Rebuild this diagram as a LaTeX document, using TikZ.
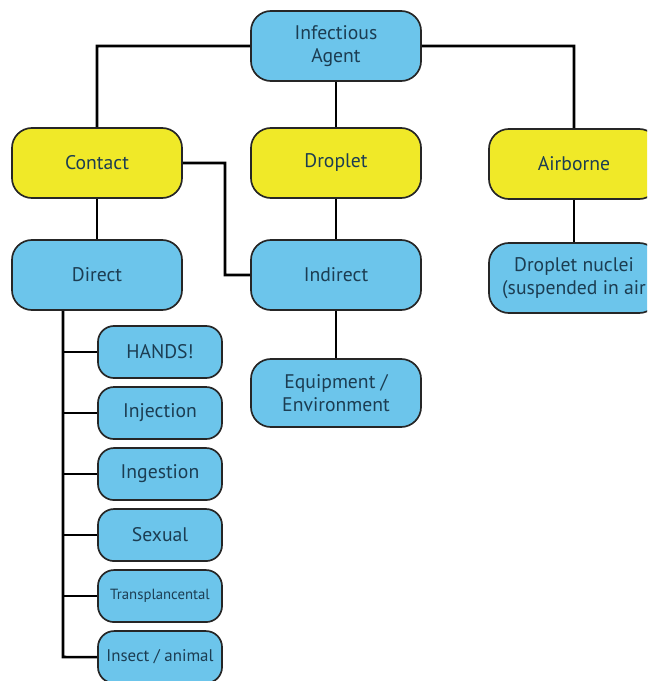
\documentclass[tikz,border=0pt]{standalone}
\usepackage{fontspec}
\setmainfont{PT Sans}
\usetikzlibrary{positioning}
\definecolor{boxblue}{HTML}{6CC5EB}
\definecolor{boxyellow}{HTML}{F0E928}
\definecolor{textblue}{HTML}{1C3D52}

\begin{document}
\begin{tikzpicture}[x=0.025cm,y=-0.025cm,-,node distance=1.525cm,
                    blue node/.style={rounded corners=0.5cm,draw=black!85,line width=1.2pt,fill=boxblue,text=textblue,align=center,
                                      minimum width=4.25cm,minimum height=1.75cm,font=\fontsize{14}{16}\selectfont},
                    yellow node/.style={blue node,fill=boxyellow},
                    small node/.style={blue node,minimum width=3.1cm,minimum height=1.3cm,rounded corners=0.4cm},
                    link/.style={draw,line width=1.8pt}]

  \useasboundingbox (0,0) rectangle (647,681);
  \clip (0,0) rectangle (647,681);

  \node[blue node] (agent) at (336,46) {Infectious\\Agent};
  \node[yellow node] (contact) at (97,163) {Contact};
  \node[yellow node] (droplet) at (336,163) {Droplet};
  \node[yellow node] (airborne) at (574,164) {Airborne};
  \node[blue node] (direct) at (97,275) {Direct};
  \node[blue node] (indirect) at (336,275) {Indirect};
  \node[blue node] (nuclei) at (574,278) {Droplet nuclei\\(suspended in air};
  \node[blue node,minimum height=1.7cm] (equip) at (336,393) {Equipment /\\Environment};

  % modes of direct contact
  \node[small node] (hands) at (160,352) {HANDS!};
  \node[small node] (injection) [below of=hands] {Injection};
  \node[small node] (ingestion) [below of=injection] {Ingestion};
  \node[small node] (sexual) [below of=ingestion] {Sexual};
  \node[small node,font=\fontsize{10.5}{12}\selectfont] (transpl) [below of=sexual] {Transplancental};
  \node[small node,font=\fontsize{12}{14}\selectfont] (insect) [below of=transpl] {Insect / animal};

  \coordinate (bend) at (225,163);
  \coordinate (trunk) at (63,657);

  \path[link]
  (agent.west) -| (contact.north)
  (agent.east) -| (airborne.north)
  (agent) edge (droplet)
  (contact) edge (direct)
  (contact.east) -- (bend) |- (indirect.west)
  (droplet) edge (indirect)
  (indirect) edge (equip)
  (airborne) edge (nuclei)
  (direct.south -| trunk) -- (trunk) -- (insect.west);

  \foreach \n in {hands,injection,ingestion,sexual,transpl}
    \draw[link] (\n.west) -- (\n.west -| trunk);

\end{tikzpicture}
\end{document}
